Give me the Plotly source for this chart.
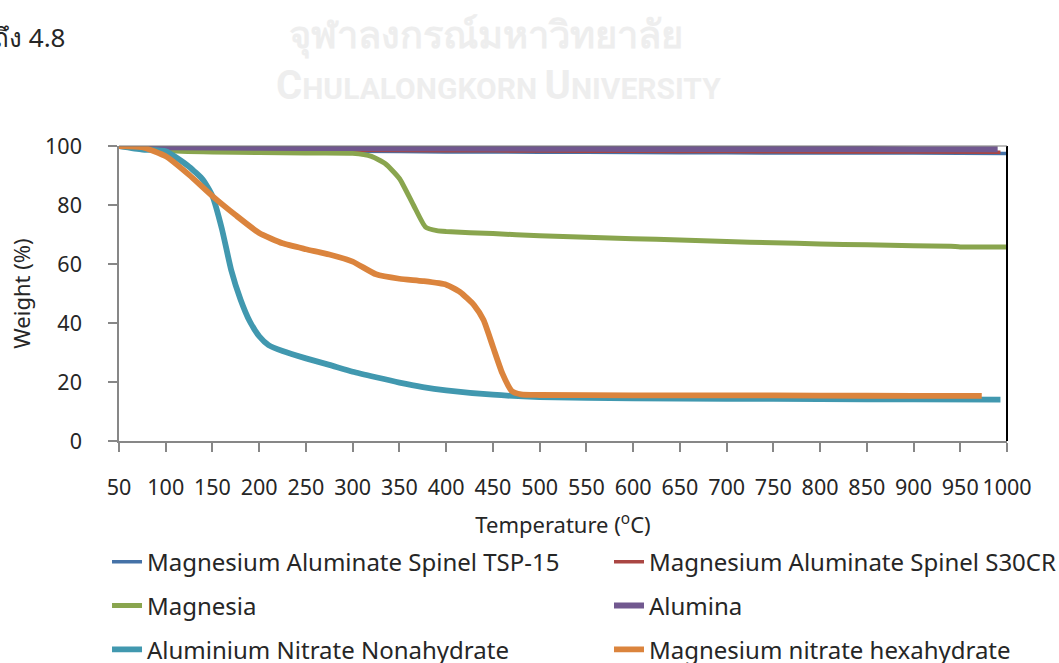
import plotly.graph_objects as go

# ---------------- data ----------------
names = [
    "Magnesium Aluminate Spinel TSP-15",
    "Magnesium Aluminate Spinel S30CR",
    "Magnesia",
    "Alumina",
    "Aluminium Nitrate Nonahydrate",
    "Magnesium nitrate hexahydrate",
]

tsp_T = [50, 100, 200, 300, 400, 500, 600, 700, 800, 900, 1000]
tsp_W = [100, 99.0, 98.5, 98.2, 98.0, 97.9, 97.8, 97.7, 97.6, 97.6, 97.5]

s30_T = [50, 100, 200, 300, 400, 500, 600, 700, 800, 900, 993]
s30_W = [100, 99.2, 98.8, 98.6, 98.4, 98.3, 98.2, 98.1, 98.0, 98.0, 97.9]

mgo_T = [50, 75, 100, 150, 200, 250, 300, 320, 335, 350, 365, 378, 390, 400, 450,
         500, 550, 600, 650, 700, 750, 800, 850, 900, 940, 950, 1000]
mgo_W = [100, 99.5, 98.5, 98.0, 97.8, 97.6, 97.5, 96.5, 94, 89, 80, 72.5, 71.3, 71.0, 70.3,
         69.6, 69.1, 68.6, 68.1, 67.6, 67.2, 66.8, 66.5, 66.2, 66.0, 65.8, 65.8]

alu_T = [50, 100, 200, 300, 400, 500, 600, 700, 800, 900, 990]
alu_W = [100, 99.6, 99.4, 99.3, 99.2, 99.1, 99.0, 99.0, 99.0, 98.9, 98.9]

aln_T = [50, 75, 100, 125, 140, 150, 160, 170, 180, 190, 200, 210, 225, 250, 275, 300,
         325, 350, 375, 400, 450, 500, 600, 700, 800, 900, 993]
aln_W = [100, 98.8, 98.2, 93, 88.5, 83, 72, 58, 48, 40.5, 35.5, 32.5, 30.5, 28, 25.8, 23.5,
         21.6, 19.8, 18.3, 17.2, 15.7, 14.9, 14.5, 14.3, 14.2, 14.1, 14.0]

mgn_T = [50, 75, 100, 125, 150, 175, 200, 225, 250, 275, 300, 325, 350, 375, 400, 415,
         430, 440, 450, 460, 470, 480, 500, 600, 700, 800, 900, 973]
mgn_W = [100, 99.6, 96.5, 90.2, 83, 76.5, 70.5, 67, 65, 63.2, 60.8, 56.5, 55, 54.2, 53, 50.5,
         46, 41, 32, 23, 17, 15.8, 15.6, 15.5, 15.5, 15.4, 15.3, 15.3]

x_ticks = list(range(50, 1001, 50))
y_ticks = [0, 20, 40, 60, 80, 100]

# ---------------- styling ----------------
colors = ["#4572A7", "#AA4643", "#89A54E", "#71588F", "#4198AF", "#DB843D"]
widths = [3.5, 3.5, 5, 6, 5.8, 5.8]
legend_ids = ["legend", "legend2", "legend3", "legend4", "legend5", "legend6"]
FONT = "Noto Sans, DejaVu Sans, sans-serif"
TXT = "#262626"

series = [(tsp_T, tsp_W), (s30_T, s30_W), (mgo_T, mgo_W),
          (alu_T, alu_W), (aln_T, aln_W), (mgn_T, mgn_W)]

fig = go.Figure()
for (t, w), n, c, lw, lg in zip(series, names, colors, widths, legend_ids):
    fig.add_trace(go.Scatter(
        x=t, y=w, name=n, mode="lines",
        line=dict(color=c, width=lw, shape="spline", smoothing=0.5),
        legend=lg,
    ))

axis_common = dict(
    showgrid=False, zeroline=False, showline=True,
    linecolor="#878787", linewidth=1.5,
    ticks="outside", ticklen=9, tickwidth=1.5, tickcolor="#878787",
    tickfont=dict(family=FONT, size=21.5, color=TXT),
)

# two-column legend below the plot: one legend box per entry
col_x = [-0.0135, 0.5518]
row_y = [-0.4105, -0.5591, -0.7078]
legend_layout = {}
for i, lg in enumerate(legend_ids):
    legend_layout[lg] = dict(
        orientation="h", xanchor="left", yanchor="middle",
        x=col_x[i % 2], y=row_y[i // 2],
        font=dict(family=FONT, size=24, color=TXT),
        bgcolor="rgba(0,0,0,0)", itemwidth=30,
    )

fig.update_layout(
    width=1059, height=663,
    margin=dict(l=119, r=52, t=145.5, b=221.5, autoexpand=False),
    paper_bgcolor="white", plot_bgcolor="white",
    showlegend=True,
    **legend_layout,
    xaxis=dict(**axis_common, range=[50, 1000], tickvals=x_ticks,
               ticklabelstandoff=17,
               title=dict(text="Temperature (<sup>o</sup>C)", standoff=18,
                          font=dict(family=FONT, size=22, color=TXT))),
    yaxis=dict(**axis_common, range=[0, 100], tickvals=y_ticks,
               ticklabelstandoff=22,
               title=dict(text="Weight (%)", standoff=8,
                          font=dict(family=FONT, size=22, color=TXT))),
    shapes=[
        dict(type="line", xref="paper", yref="paper", x0=1, x1=1, y0=0, y1=1,
             line=dict(color="black", width=2)),
        dict(type="line", xref="paper", yref="paper", x0=0, x1=1, y0=1, y1=1,
             line=dict(color="#777777", width=1)),
    ],
    annotations=[
        dict(text="ถึง 4.8", xref="paper", yref="paper", x=-0.0586, y=1.370,
             xanchor="right", yanchor="middle", showarrow=False,
             font=dict(family=FONT, size=26, color=TXT)),
        dict(text="<b>จุฬาลงกรณ์มหาวิทยาลัย</b>", xref="paper", yref="paper",
             x=0.413, y=1.383, xanchor="center", yanchor="middle", showarrow=False,
             font=dict(family=FONT, size=38, color="#eeeeee")),
        dict(text="<b><span style='font-size:40px'>C</span>HULALONGKORN "
                  "<span style='font-size:40px'>U</span>NIVERSITY</b>",
             xref="paper", yref="paper", x=0.427, y=1.205, xanchor="center",
             yanchor="middle", showarrow=False,
             font=dict(family="Liberation Sans Narrow, Roboto, sans-serif",
                       size=30, color="#eeeeee")),
    ],
)

fig.write_html("out.html")
